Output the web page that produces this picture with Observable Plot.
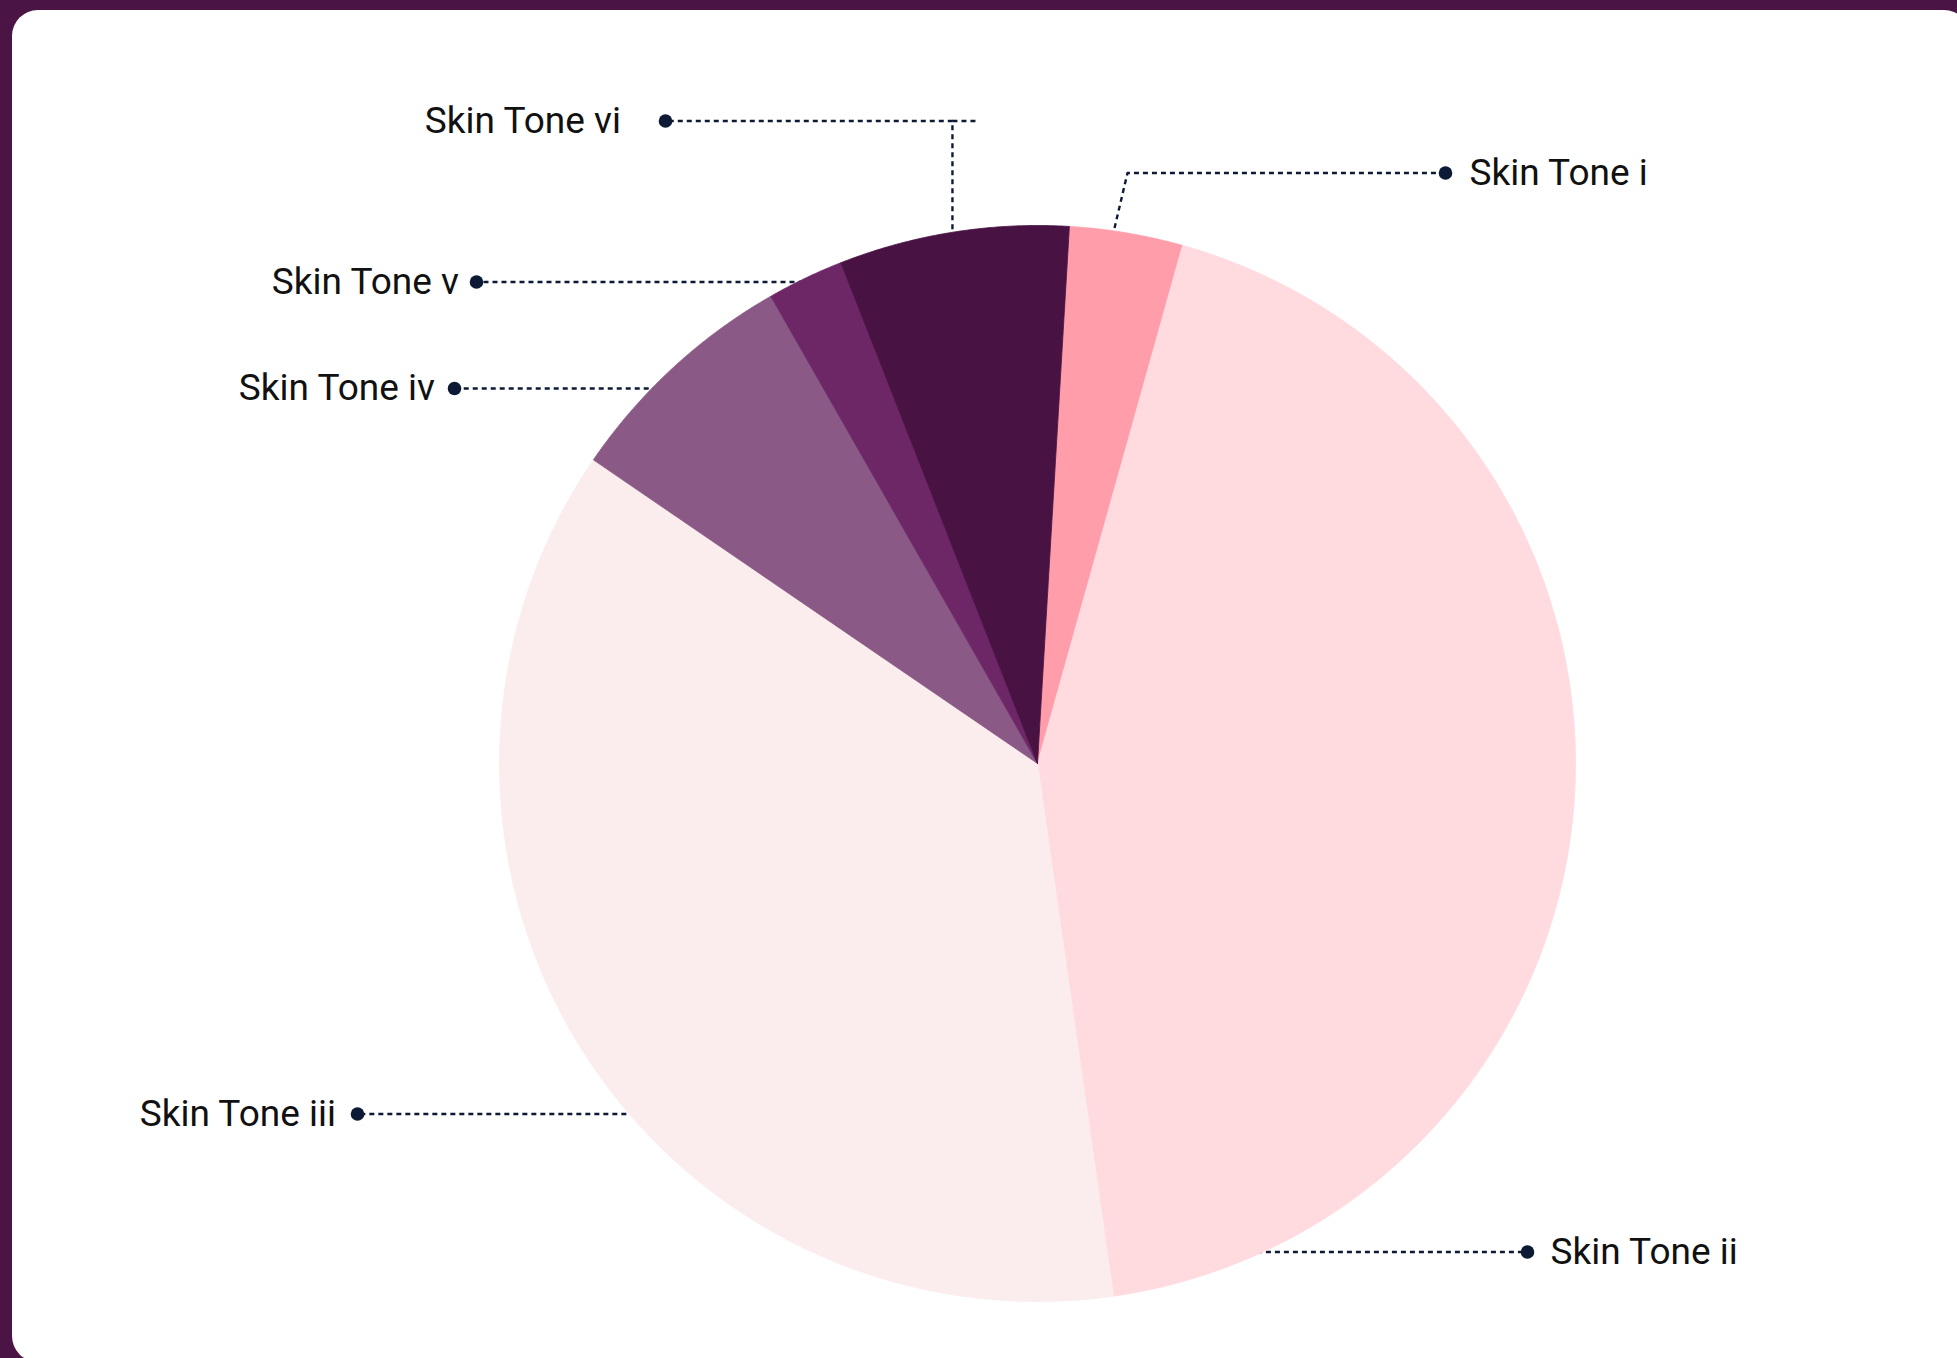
<!DOCTYPE html>
<html>
<head>
<meta charset="utf-8">
<script src="https://cdn.jsdelivr.net/npm/d3@7"></script>
<script src="https://cdn.jsdelivr.net/npm/@observablehq/plot@0.6"></script>
<style>
  html, body { margin: 0; padding: 0; }
  body { width: 1957px; height: 1358px; overflow: hidden; background: #4A1444; position: relative; font-family: Roboto, Inter, sans-serif; }
  #card { position: absolute; left: 12px; top: 10px; width: 1958px; height: 1352px; border-radius: 26px; background: #ffffff; }
  #chart { position: absolute; left: 0; top: 0; }
  #chart svg { background: transparent; overflow: visible; }
</style>
</head>
<body>
<div id="card"></div>
<div id="chart"></div>
<script>
// ---- data ----
const tones = ["Skin Tone i", "Skin Tone ii", "Skin Tone iii", "Skin Tone iv", "Skin Tone v", "Skin Tone vi"];
const shares = [3.4, 43.4, 36.8, 7.2, 2.3, 6.9];
const toneColors = ["#FF9EAA", "#FFDBE0", "#FBECEE", "#8A5985", "#6E2766", "#481242"];

// ---- layout (pixels / degrees) ----
const W = 1957, H = 1358;
const cx = 1037, cy = 763, R = 538;
const startDeg = 3.4;
const labelLayout = [
  {tone: "Skin Tone i",   y: 172.5, dotX: 1445, textX: 1469, anchor: "start", kind: "bent", angle: 8.1, elbowX: 1127},
  {tone: "Skin Tone ii",  y: 1251.5, dotX: 1527, textX: 1550, anchor: "start", kind: "flat"},
  {tone: "Skin Tone iii", y: 1113.5, dotX: 357,  textX: 335.5, anchor: "end",  kind: "flat"},
  {tone: "Skin Tone iv",  y: 388,  dotX: 454,  textX: 434.5, anchor: "end",  kind: "flat"},
  {tone: "Skin Tone v",   y: 281.5, dotX: 476,  textX: 458.5, anchor: "end",  kind: "flat"},
  {tone: "Skin Tone vi",  y: 120.5, dotX: 665,  textX: 620.5, anchor: "end",  kind: "bent", angle: 350.8, overhangX: 977}
];

// ---- slices from d3.pie ----
const rad = d => d * Math.PI / 180;
const pie = d3.pie().sort(null).value(d => d.share)
  .startAngle(rad(startDeg)).endAngle(rad(startDeg) + 2 * Math.PI);
const arcs = pie(tones.map((t, i) => ({tone: t, share: shares[i]})));
const polar = (a, r) => [cx + r * Math.sin(a), cy - r * Math.cos(a)];

const slicePts = [];
for (const a of arcs) {
  const t = a.data.tone;
  slicePts.push({tone: t, x: cx, y: cy});
  const n = Math.max(8, Math.ceil((a.endAngle - a.startAngle) / rad(0.25)));
  for (let k = 0; k <= n; ++k) {
    const ang = a.startAngle + (a.endAngle - a.startAngle) * k / n;
    const [x, y] = polar(ang, R);
    slicePts.push({tone: t, x, y});
  }
  slicePts.push({tone: t, x: cx, y: cy});
}

// ---- leader lines ----
const leaderPts = [];
for (const L of labelLayout) {
  if (L.kind === "flat") {
    const dy = L.y - cy;
    const dx = Math.sqrt(R * R - dy * dy) - 6;
    const ex = L.dotX > cx ? cx + dx : cx - dx;
    leaderPts.push({id: L.tone, x: ex, y: L.y}, {id: L.tone, x: L.dotX, y: L.y});
  } else {
    const [ex, ey] = polar(rad(L.angle), R - 6);
    const elbowX = L.elbowX !== undefined ? L.elbowX : ex;
    leaderPts.push({id: L.tone, x: ex, y: ey}, {id: L.tone, x: elbowX, y: L.y}, {id: L.tone, x: L.dotX, y: L.y});
    if (L.overhangX !== undefined) {
      leaderPts.push({id: L.tone + "-o", x: elbowX, y: L.y}, {id: L.tone + "-o", x: L.overhangX, y: L.y});
    }
  }
}

const chart = Plot.plot({
  width: W,
  height: H,
  margin: 0,
  x: {domain: [0, W], range: [0, W], axis: null},
  y: {domain: [0, H], range: [0, H], axis: null},
  color: {domain: tones, range: toneColors},
  style: {background: "transparent", overflow: "visible", fontFamily: "Roboto, Inter, sans-serif"},
  marks: [
    Plot.line(leaderPts, {x: "x", y: "y", z: "id", stroke: "#0D1A36", strokeWidth: 2.4, strokeDasharray: "5,4", strokeLinecap: "butt"}),
    Plot.line(slicePts, {x: "x", y: "y", z: "tone", fill: "tone", stroke: "tone", strokeWidth: 0.8, curve: "linear"}),
    Plot.dot(labelLayout, {x: "dotX", y: "y", r: 6.8, fill: "#0D1A36", stroke: null}),
    Plot.text(labelLayout.filter(d => d.anchor === "start"), {x: "textX", y: "y", text: "tone", textAnchor: "start", fontSize: 37, fill: "#111111", dy: 0}),
    Plot.text(labelLayout.filter(d => d.anchor === "end"), {x: "textX", y: "y", text: "tone", textAnchor: "end", fontSize: 37, fill: "#111111", dy: 0})
  ]
});
document.getElementById("chart").appendChild(chart);
</script>
</body>
</html>
